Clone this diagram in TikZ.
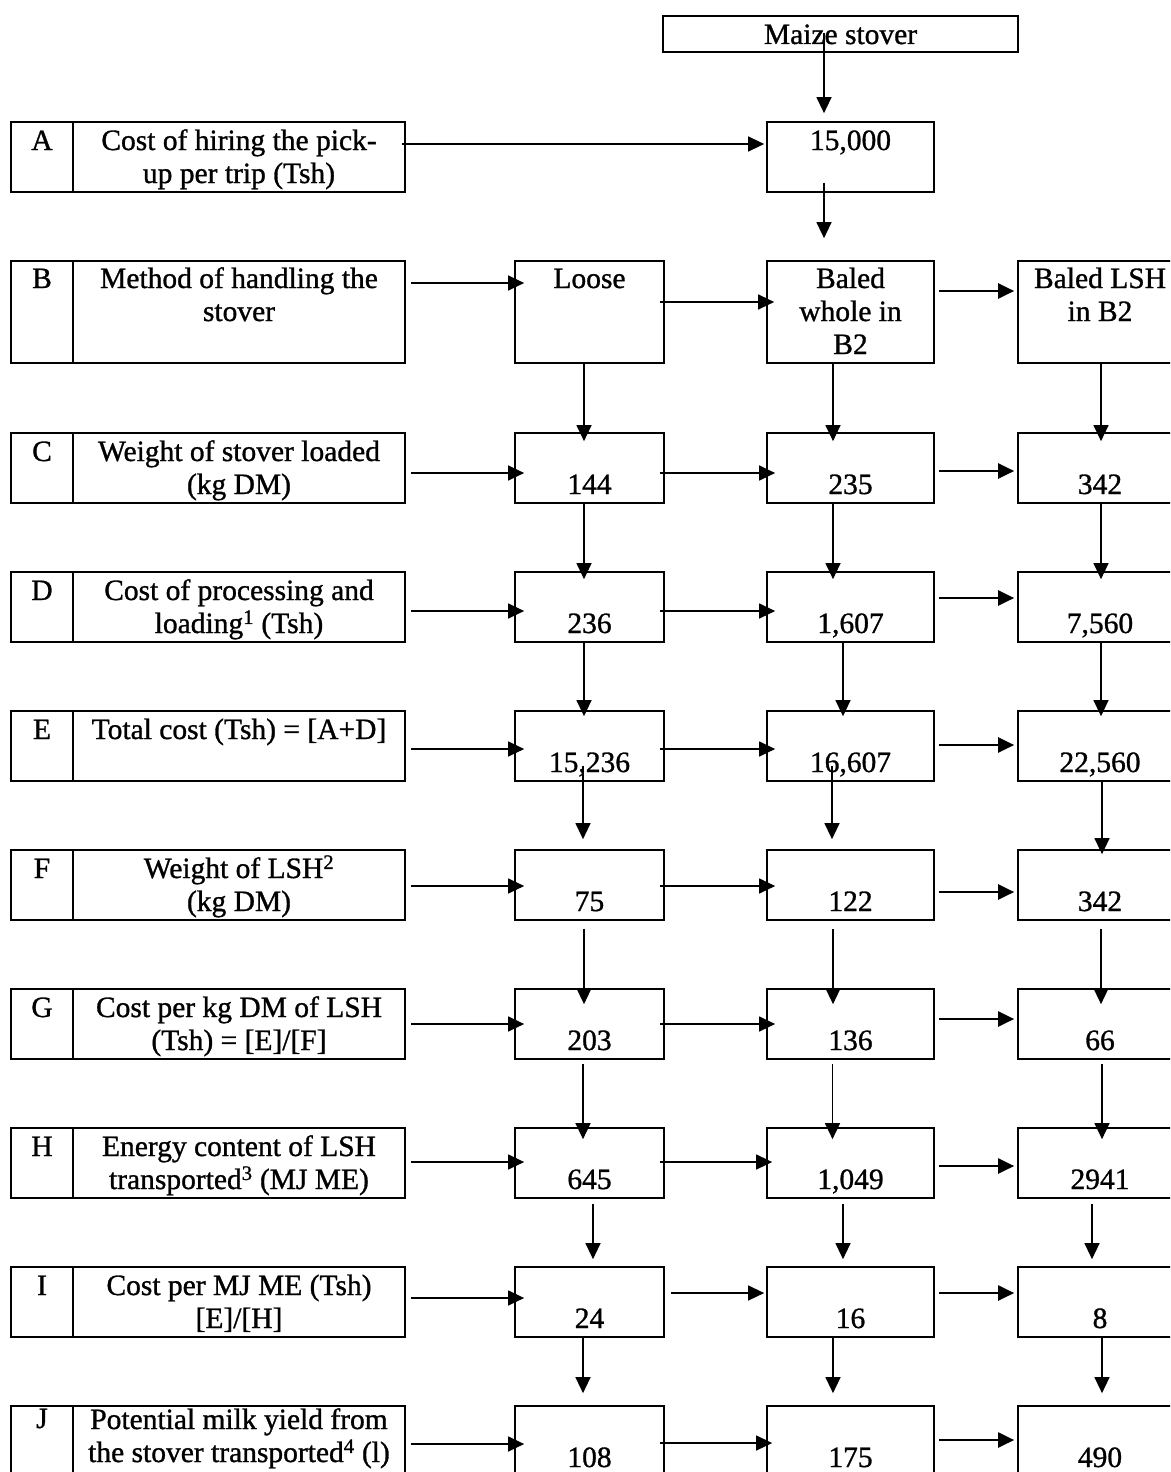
\documentclass[tikz,border=0pt]{standalone}
\usepackage{fontspec}
\setmainfont{Liberation Serif}[FakeBold=1]
\usetikzlibrary{arrows.meta,calc}

\tikzset{
  box/.style={draw, line width=1.7pt, inner sep=0pt, minimum height=70pt, align=center,
    font=\fontsize{29.5}{33}\selectfont, text height=61pt, text depth=9pt},
  topline/.style={text height=28pt, text depth=42pt},
  letterbox/.style={box, minimum width=62pt},
  labelbox/.style={box, minimum width=332pt},
  colone/.style={box, minimum width=149pt},
  coltwo/.style={box, minimum width=167pt},
  colthree/.style={box, minimum width=164pt},
  tall/.style={minimum height=102pt},
  arr/.style={-{Triangle[length=16pt,width=15pt]}, line width=1.3pt},
  thickarr/.style={arr, line width=2.2pt}
}

\begin{document}
\begin{tikzpicture}[x=1pt,y=-1pt]
			\useasboundingbox (0,0) rectangle (1170,1472);
			\clip (0,0) rectangle (1170,1472);
			
			\node[box, minimum width=355pt, minimum height=36pt, text height=28pt, text depth=8pt] (maize) at (840.5,34) {Maize stover};
			\node[coltwo, topline] (hire) at (850.5,157) {15,000};
			
			\node[letterbox, topline] (lA) at (42,157) {A};
			\node[labelbox] (tA) at (239,157) {Cost of hiring the pick-\\up per trip (Tsh)};
			
			\node[letterbox, tall, text height=27pt, text depth=75pt] (lB) at (42,312) {B};
			\node[labelbox, tall, text height=60pt, text depth=42pt] (tB) at (239,312) {Method of handling the\\stover};
			\node[colone, tall, text height=27pt, text depth=75pt] (loose) at (589.5,312) {Loose};
			\node[coltwo, tall, text height=93pt, text depth=9pt] (whole) at (850.5,312) {Baled\\whole in\\B2};
			\node[colthree, tall, text height=60pt, text depth=42pt] (lsh) at (1100,312) {Baled LSH\\in B2};
			
			\node[letterbox, topline] (lC) at (42,468) {C};
			\node[labelbox] (tC) at (239,468) {Weight of stover loaded\\(kg DM)};
			\node[colone] (c1) at (589.5,468) {144};
			\node[coltwo] (c2) at (850.5,468) {235};
			\node[colthree] (c3) at (1100,468) {342};
			
			\node[letterbox, topline] (lD) at (42,607) {D};
			\node[labelbox] (tD) at (239,607) {Cost of processing and\\loading\textsuperscript{1} (Tsh)};
			\node[colone] (d1) at (589.5,607) {236};
			\node[coltwo] (d2) at (850.5,607) {1,607};
			\node[colthree] (d3) at (1100,607) {7,560};
			
			\node[letterbox, topline] (lE) at (42,746) {E};
			\node[labelbox, topline] (tE) at (239,746) {Total cost (Tsh) = [A+D]};
			\node[colone] (e1) at (589.5,746) {15,236};
			\node[coltwo] (e2) at (850.5,746) {16,607};
			\node[colthree] (e3) at (1100,746) {22,560};
			
			\node[letterbox, topline] (lF) at (42,885) {F};
			\node[labelbox] (tF) at (239,885) {Weight of LSH\textsuperscript{2}\\(kg DM)};
			\node[colone] (f1) at (589.5,885) {75};
			\node[coltwo] (f2) at (850.5,885) {122};
			\node[colthree] (f3) at (1100,885) {342};
			
			\node[letterbox, topline] (lG) at (42,1024) {G};
			\node[labelbox] (tG) at (239,1024) {Cost per kg DM of LSH\\(Tsh) = [E]/[F]};
			\node[colone] (g1) at (589.5,1024) {203};
			\node[coltwo] (g2) at (850.5,1024) {136};
			\node[colthree] (g3) at (1100,1024) {66};
			
			\node[letterbox, topline] (lH) at (42,1163) {H};
			\node[labelbox] (tH) at (239,1163) {Energy content of LSH\\transported\textsuperscript{3} (MJ ME)};
			\node[colone] (h1) at (589.5,1163) {645};
			\node[coltwo] (h2) at (850.5,1163) {1,049};
			\node[colthree] (h3) at (1100,1163) {2941};
			
			\node[letterbox, topline] (lI) at (42,1302) {I};
			\node[labelbox] (tI) at (239,1302) {Cost per MJ ME (Tsh)\\{}[E]/[H]};
			\node[colone] (i1) at (589.5,1302) {24};
			\node[coltwo] (i2) at (850.5,1302) {16};
			\node[colthree] (i3) at (1100,1302) {8};
			
			\node[letterbox, text height=22pt, text depth=48pt] (lJ) at (42,1441) {J};
			\node[labelbox, text height=56pt, text depth=14pt] (tJ) at (239,1441) {Potential milk yield from\\the stover transported\textsuperscript{4} (l)};
			\node[colone] (j1) at (589.5,1441) {108};
			\node[coltwo] (j2) at (850.5,1441) {175};
			\node[colthree] (j3) at (1100,1441) {490};
			
			\draw[arr] ($(maize.center)+(-16.5,-1)$) -- ($(hire.north)+(-26.5,-8)$);
			\draw[arr] ($(tA.east)+(-4,-13)$) -- ($(hire.west)+(-2,-13)$);
			\draw[arr] ($(hire.south)+(-26.5,-10)$) -- ($(whole.north)+(-26.5,-22)$);
			
			\draw[arr] ($(tB.east)+(5,-29)$) -- ($(loose.west)+(10,-29)$);
			\draw[arr] ($(loose.east)+(-5,-10)$) -- ($(whole.west)+(8,-10)$);
			\draw[thickarr] ($(whole.east)+(4,-21)$) -- ($(lsh.west)+(-3,-21)$);
			
			\draw[arr] ($(loose.south)+(-5.5,0)$) -- ($(c1.north)+(-5.5,9)$);
			\draw[arr] ($(whole.south)+(-17.5,0)$) -- ($(c2.north)+(-17.5,9)$);
			\draw[arr] ($(lsh.south)+(1,0)$) -- ($(c3.north)+(1,9)$);
			
			\draw[arr] ($(tC.east)+(5,5)$) -- ($(c1.west)+(10,5)$);
			\draw[arr] ($(c1.east)+(-5,5)$) -- ($(c2.west)+(9,5)$);
			\draw[thickarr] ($(c2.east)+(4,3)$) -- ($(c3.west)+(-3,3)$);
			
			\draw[arr] ($(c1.south)+(-5.5,0)$) -- ($(d1.north)+(-5.5,8)$);
			\draw[arr] ($(c2.south)+(-17.5,0)$) -- ($(d2.north)+(-17.5,8)$);
			\draw[arr] ($(c3.south)+(1,0)$) -- ($(d3.north)+(1,8)$);
			
			\draw[arr] ($(tD.east)+(5,4)$) -- ($(d1.west)+(10,4)$);
			\draw[arr] ($(d1.east)+(-5,4)$) -- ($(d2.west)+(9,4)$);
			\draw[thickarr] ($(d2.east)+(4,-9)$) -- ($(d3.west)+(-3,-9)$);
			
			\draw[arr] ($(d1.south)+(-5.5,0)$) -- ($(e1.north)+(-5.5,6)$);
			\draw[arr] ($(d2.south)+(-7.5,0)$) -- ($(e2.north)+(-7.5,6)$);
			\draw[arr] ($(d3.south)+(1,0)$) -- ($(e3.north)+(1,6)$);
			
			\draw[arr] ($(tE.east)+(5,3)$) -- ($(e1.west)+(10,3)$);
			\draw[arr] ($(e1.east)+(-5,3)$) -- ($(e2.west)+(9,3)$);
			\draw[thickarr] ($(e2.east)+(4,-1)$) -- ($(e3.west)+(-3,-1)$);
			
			\draw[arr] ($(e1.south)+(-6.5,-16)$) -- ($(f1.north)+(-6.5,-10)$);
			\draw[arr] ($(e2.south)+(-18.5,-16)$) -- ($(f2.north)+(-18.5,-10)$);
			\draw[arr] ($(e3.south)+(2,-2)$) -- ($(f3.north)+(2,5)$);
			
			\draw[arr] ($(tF.east)+(5,1)$) -- ($(f1.west)+(10,1)$);
			\draw[arr] ($(f1.east)+(-5,1)$) -- ($(f2.west)+(9,1)$);
			\draw[thickarr] ($(f2.east)+(4,7)$) -- ($(f3.west)+(-3,7)$);
			
			\draw[arr] ($(f1.south)+(-5.5,8)$) -- ($(g1.north)+(-5.5,16)$);
			\draw[arr] ($(f2.south)+(-17.5,8)$) -- ($(g2.north)+(-17.5,16)$);
			\draw[arr] ($(f3.south)+(1,8)$) -- ($(g3.north)+(1,16)$);
			
			\draw[arr] ($(tG.east)+(5,0)$) -- ($(g1.west)+(10,0)$);
			\draw[arr] ($(g1.east)+(-5,0)$) -- ($(g2.west)+(9,0)$);
			\draw[thickarr] ($(g2.east)+(4,-5)$) -- ($(g3.west)+(-3,-5)$);
			
			\draw[arr] ($(g1.south)+(-6.5,4)$) -- ($(h1.north)+(-6.5,12)$);
			\draw[arr] ($(g2.south)+(-18,4)$) -- ($(h2.north)+(-18,12)$);
			\draw[arr] ($(g3.south)+(2,4)$) -- ($(h3.north)+(2,12)$);
			
			\draw[arr] ($(tH.east)+(5,-1)$) -- ($(h1.west)+(10,-1)$);
			\draw[arr] ($(h1.east)+(-5,-1)$) -- ($(h2.west)+(6,-1)$);
			\draw[thickarr] ($(h2.east)+(4,3)$) -- ($(h3.west)+(-3,3)$);
			
			\draw[arr] ($(h1.south)+(3.5,5)$) -- ($(i1.north)+(3.5,-7)$);
			\draw[arr] ($(h2.south)+(-7.5,5)$) -- ($(i2.north)+(-7.5,-7)$);
			\draw[arr] ($(h3.south)+(-8,5)$) -- ($(i3.north)+(-8,-7)$);
			
			\draw[arr] ($(tI.east)+(5,-4)$) -- ($(i1.west)+(10,-4)$);
			\draw[arr] ($(i1.east)+(6,-9)$) -- ($(i2.west)+(-2,-9)$);
			\draw[thickarr] ($(i2.east)+(4,-9)$) -- ($(i3.west)+(-3,-9)$);
			
			\draw[arr] ($(i1.south)+(-6.5,0)$) -- ($(j1.north)+(-6.5,-12)$);
			\draw[arr] ($(i2.south)+(-17.5,0)$) -- ($(j2.north)+(-17.5,-12)$);
			\draw[arr] ($(i3.south)+(2,0)$) -- ($(j3.north)+(2,-12)$);
			
			\draw[arr] ($(tJ.east)+(5,3)$) -- ($(j1.west)+(10,3)$);
			\draw[arr] ($(j1.east)+(-5,2)$) -- ($(j2.west)+(6,2)$);
			\draw[thickarr] ($(j2.east)+(4,-1)$) -- ($(j3.west)+(-3,-1)$);
		\end{tikzpicture}
\end{document}
